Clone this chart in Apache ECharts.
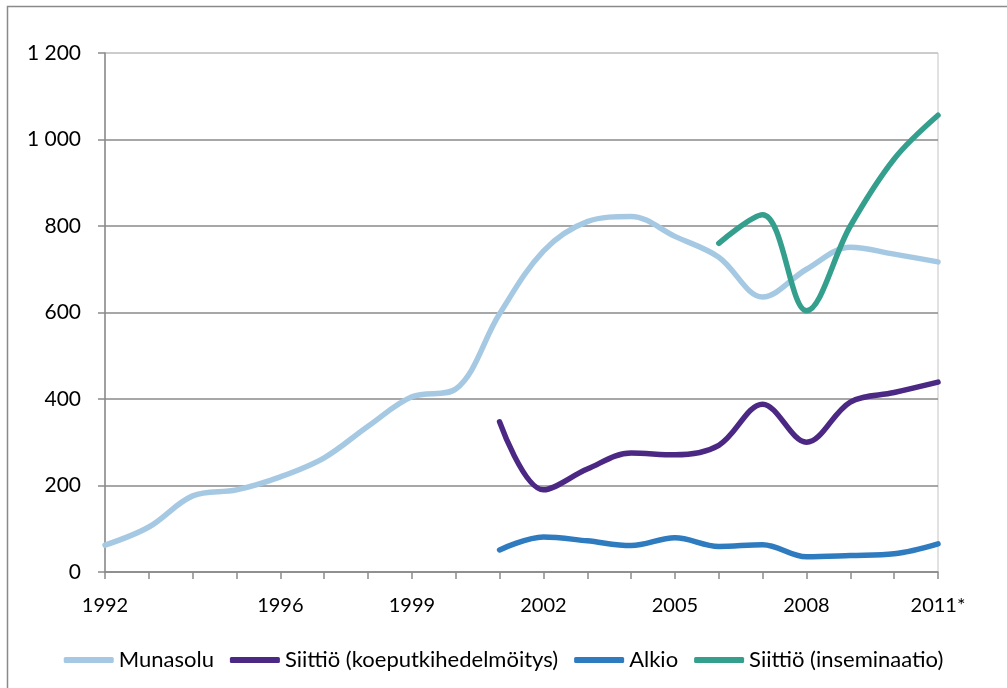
<!DOCTYPE html>
<html>
<head>
<meta charset="utf-8">
<script src="https://cdn.jsdelivr.net/npm/echarts@6/dist/echarts.min.js"></script>
<style>
  html, body { margin: 0; padding: 0; background: #fff; }
  #chart { width: 1007px; height: 688px; }
</style>
</head>
<body>
<div id="chart"></div>
<script>
// Years on the category axis (last one is a preliminary figure)
const years = ['1992','1993','1994','1995','1996','1997','1998','1999','2000','2001',
               '2002','2003','2004','2005','2006','2007','2008','2009','2010','2011*'];

// Series values per year (null where the series has no data)
const munasolu = [62, 104, 176, 190, 220, 264, 337, 405, 423, 597,
                  742, 810, 822, 776, 728, 636, 700, 751, 735, 717];
const siittioKoeputki = [null, null, null, null, null, null, null, null, null, 347,
                         190, 238, 275, 271, 293, 388, 300, 393, 415, 439];
const alkio = [null, null, null, null, null, null, null, null, null, 51,
               81, 72, 61, 79, 59, 63, 35, 38, 42, 65];
const siittioInseminaatio = [null, null, null, null, null, null, null, null, null, null,
                             null, null, null, null, 760, 826, 604, 800, 955, 1056];

const seriesNames = ['Munasolu', 'Siittiö (koeputkihedelmöitys)', 'Alkio', 'Siittiö (inseminaatio)'];
const seriesData = [munasolu, siittioKoeputki, alkio, siittioInseminaatio];
const seriesColors = ['#A6C9E3', '#4B2884', '#2F7BC0', '#359F8E'];

// Axis label years that are shown under the ticks
const shownLabels = ['1992', '1996', '1999', '2002', '2005', '2008', '2011*'];

const fontFamily = 'Lato, "Open Sans", sans-serif';

const chart = echarts.init(document.getElementById('chart'), null, { renderer: 'canvas' });

chart.setOption({
  animation: false,
  backgroundColor: '#fff',
  graphic: [{
    type: 'rect',
    shape: { x: 7.5, y: 6.5, width: 1010, height: 700 },
    style: { fill: 'none', stroke: '#8a8a8a', lineWidth: 1.5 },
    silent: true,
    z: -1
  }],
  grid: {
    left: 105, right: 69, top: 53, bottom: 116,
    show: true, borderColor: '#c4c4c4', borderWidth: 1
  },
  legend: {
    top: 644,
    left: 'center',
    itemWidth: 50,
    itemHeight: 6,
    itemGap: 16,
    icon: 'roundRect',
    textStyle: { fontFamily, fontSize: 22, color: '#000' },
    data: seriesNames
  },
  xAxis: {
    type: 'category',
    data: years,
    boundaryGap: false,
    axisLine: { lineStyle: { color: '#8a8a8a', width: 1.5 } },
    axisTick: { show: true, length: 7, interval: 0, lineStyle: { color: '#8a8a8a', width: 1.5 } },
    axisLabel: {
      interval: (idx, val) => shownLabels.includes(val),
      margin: 24,
      fontFamily, fontSize: 20, color: '#000'
    },
    splitLine: { show: false }
  },
  yAxis: {
    type: 'value',
    min: 0, max: 1200, interval: 200,
    axisLine: { show: true, lineStyle: { color: '#8a8a8a', width: 1.5 } },
    axisTick: { show: true, length: 7, lineStyle: { color: '#8a8a8a', width: 1.5 } },
    axisLabel: {
      margin: 24,
      fontFamily, fontSize: 21, color: '#000',
      formatter: v => String(v).replace(/\B(?=(\d{3})+(?!\d))/g, ' ')
    },
    splitLine: {
      lineStyle: {
        color: ['#8a8a8a', '#8a8a8a', '#8a8a8a', '#8a8a8a', '#8a8a8a', '#8a8a8a', '#c4c4c4'],
        width: 1.5
      }
    }
  },
  series: seriesNames.map((name, i) => ({
    name,
    type: 'line',
    data: seriesData[i],
    smooth: 0.35,
    showSymbol: false,
    symbol: 'none',
    connectNulls: false,
    lineStyle: { color: seriesColors[i], width: 5.5, cap: 'round', join: 'round' },
    itemStyle: { color: seriesColors[i] }
  }))
});
</script>
</body>
</html>
